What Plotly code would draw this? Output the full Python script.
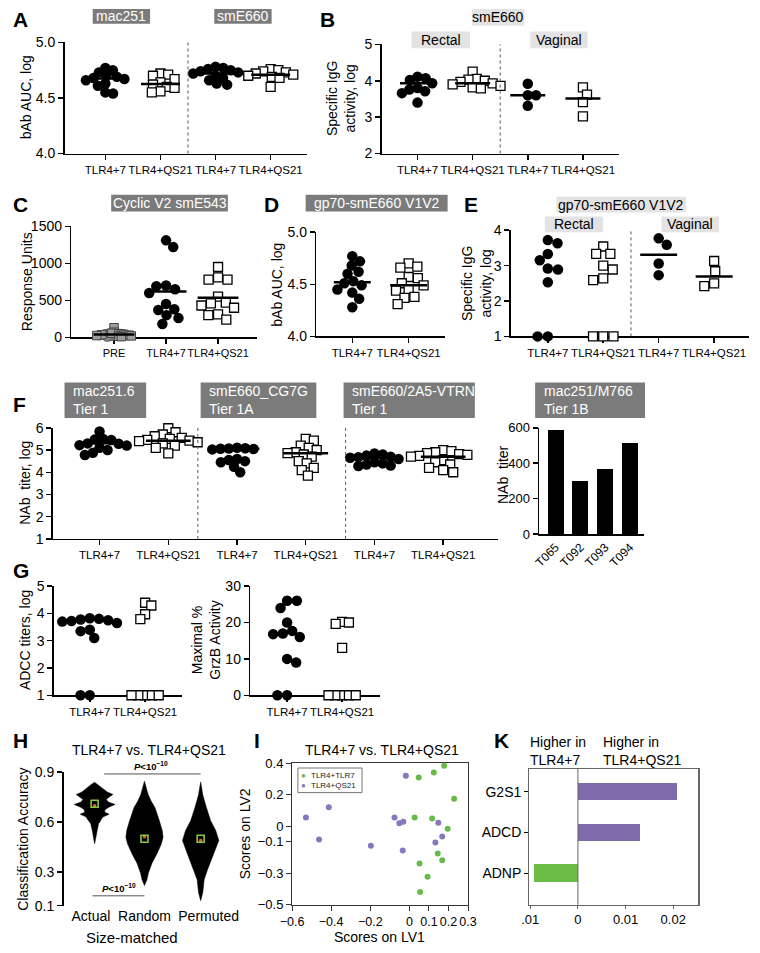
import math
import plotly.graph_objects as go

W, H = 760, 953
FONT = "Liberation Sans, Arial, Helvetica, sans-serif"

# ============================ data ============================
grp2 = ["TLR4+7", "TLR4+QS21"]
grp4 = ["TLR4+7", "TLR4+QS21", "TLR4+7", "TLR4+QS21"]
grp_c = ["PRE", "TLR4+7", "TLR4+QS21"]
grp6 = grp4 + grp2

# A  bAb AUC, log (mac251 / smE660)
a_mac251_tlr47 = [4.77, 4.75, 4.73, 4.70, 4.69, 4.68, 4.67, 4.66, 4.63, 4.61, 4.55, 4.54]
a_mac251_qs21 = [4.72, 4.71, 4.70, 4.67, 4.64, 4.62, 4.60, 4.59, 4.56, 4.55]
a_sme660_tlr47 = [4.78, 4.77, 4.76, 4.75, 4.74, 4.73, 4.72, 4.70, 4.68, 4.66, 4.63, 4.62]
a_sme660_qs21 = [4.76, 4.75, 4.74, 4.73, 4.72, 4.71, 4.70, 4.69, 4.68, 4.60]
a_lines = [4.675, 4.625, 4.72, 4.71]

# B  smE660 specific IgG activity (rectal / vaginal)
b_rectal_tlr47 = [4.11, 4.07, 4.02, 3.93, 3.80, 3.76, 3.71, 3.66, 3.40]
b_rectal_qs21 = [4.25, 4.05, 4.03, 4.00, 3.97, 3.93, 3.90, 3.86, 3.82, 3.79]
b_vaginal_tlr47 = [3.92, 3.60, 3.60, 3.31]
b_vaginal_qs21 = [3.82, 3.62, 3.41, 3.02]
b_lines = [3.93, 3.93, 3.60, 3.51]

# C  Cyclic V2 smE543, response units
c_pre_circles = [60, 50, 45, 40, 35, 30, 30, 25, 20, 15, 10]
c_pre_squares = [130, 70, 55, 50, 45, 40, 35, 30, 25, 20, 15, 10]
c_tlr47 = [1310, 1220, 700, 690, 650, 600, 450, 380, 370, 300, 260, 180]
c_qs21 = [950, 810, 780, 780, 550, 470, 460, 430, 400, 310, 300, 240]
c_lines = [40, 620, 535]

# D  gp70-smE660 V1V2 bAb AUC, log
d_tlr47 = [4.77, 4.72, 4.68, 4.62, 4.60, 4.53, 4.51, 4.49, 4.45, 4.42, 4.36, 4.28]
d_qs21 = [4.70, 4.67, 4.66, 4.57, 4.56, 4.51, 4.49, 4.45, 4.44, 4.38, 4.37, 4.31]
d_lines = [4.52, 4.49]

# E  gp70-smE660 V1V2 specific IgG activity
e_rectal_tlr47 = [3.72, 3.63, 3.33, 3.15, 2.92, 2.89, 2.53, 1.0, 1.0]
e_rectal_qs21 = [3.54, 3.33, 3.33, 3.00, 2.89, 2.64, 2.59, 1.0, 1.0, 1.0]
e_vaginal_tlr47 = [3.77, 3.59, 3.06, 2.73]
e_vaginal_qs21 = [3.13, 2.84, 2.50, 2.42]
e_lines = [None, None, 3.31, 2.69]

# F  NAb titer, log
f_mac_tlr47 = [5.84, 5.50, 5.48, 5.45, 5.30, 5.28, 5.22, 5.20, 5.10, 5.00, 4.88, 4.78]
f_mac_qs21 = [5.98, 5.80, 5.70, 5.62, 5.55, 5.50, 5.46, 5.42, 5.40, 5.35, 5.30, 5.20, 5.10, 4.85]
f_cg7g_tlr47 = [5.10, 5.08, 5.07, 5.06, 5.05, 5.03, 4.60, 4.55, 4.50, 4.45, 4.25, 4.00]
f_cg7g_qs21 = [5.50, 5.42, 5.20, 5.10, 5.00, 4.90, 4.86, 4.80, 4.70, 4.50, 4.40, 4.20, 4.10, 3.85]
f_vtrn_tlr47 = [4.85, 4.80, 4.75, 4.70, 4.68, 4.65, 4.60, 4.45, 4.40, 4.35, 4.30, 4.28]
f_vtrn_qs21 = [5.00, 4.95, 4.90, 4.86, 4.82, 4.78, 4.74, 4.70, 4.55, 4.45, 4.35, 4.20, 4.10, 4.00]
f_lines = [5.31, 5.42, 5.06, 4.86, 4.65, 4.70]

# F  mac251/M766 NAb titer bars
f_bar_animals = ["T065", "T092", "T093", "T094"]
f_bar_titers = [590, 300, 365, 515]

# G  ADCC
g_adcc_tlr47 = [3.82, 3.80, 3.78, 3.75, 3.72, 3.70, 3.65, 3.60, 3.40, 3.35, 3.10, 1.0, 1.0]
g_adcc_qs21 = [4.39, 4.29, 3.97, 3.79, 1.0, 1.0, 1.0, 1.0, 1.0]
g_grzb_tlr47 = [26.0, 26.0, 24.0, 20.0, 17.7, 17.0, 16.8, 16.0, 10.0, 9.0, 0.0, 0.0]
g_grzb_qs21 = [20.2, 20.0, 19.6, 13.0, 0.0, 0.0, 0.0, 0.0, 0.0]

# H  classification accuracy violins (accuracy level, relative density)
h_groups = ["Actual", "Random", "Permuted"]
h_actual_acc = [0.47, 0.50, 0.54, 0.57, 0.59, 0.605, 0.618, 0.632, 0.647, 0.66, 0.676, 0.69,
                0.706, 0.72, 0.735, 0.75, 0.765, 0.78, 0.795, 0.81, 0.825, 0.838]
h_actual_dens = [0.0, 0.05, 0.10, 0.14, 0.19, 0.28, 0.33, 0.43, 0.71, 0.48, 0.52, 0.71,
                 1.0, 0.67, 0.57, 0.71, 0.90, 0.62, 0.45, 0.31, 0.17, 0.0]
h_random_acc = [0.22, 0.255, 0.294, 0.353, 0.41, 0.47, 0.51, 0.549, 0.608, 0.688, 0.725, 0.765,
                0.80, 0.824, 0.845]
h_random_dens = [0.0, 0.12, 0.19, 0.36, 0.61, 0.83, 0.91, 0.87, 0.73, 0.51, 0.33, 0.18,
                 0.10, 0.05, 0.0]
h_permuted_acc = [0.13, 0.176, 0.218, 0.255, 0.314, 0.372, 0.43, 0.49, 0.549, 0.608, 0.688,
                  0.765, 0.805, 0.84]
h_permuted_dens = [0.0, 0.10, 0.14, 0.17, 0.33, 0.52, 0.71, 0.89, 0.74, 0.49, 0.28, 0.10,
                   0.05, 0.0]
h_medians = [0.71, 0.50, 0.50]
h_means = [0.698, 0.512, 0.49]

# I  PLS-DA scores
i_tlr47_lv1 = [0.178, 0.048, 0.125, 0.229, 0.027, 0.116, 0.196, 0.145, 0.168, 0.052, 0.093, 0.055]
i_tlr47_lv2 = [0.383, 0.308, 0.340, 0.173, 0.054, 0.048, -0.017, -0.175, -0.217, -0.238, -0.323, -0.419]
i_qs21_lv1 = [-0.018, -0.412, -0.529, -0.076, -0.051, -0.031, 0.148, -0.462, -0.197, -0.034, 0.133, 0.168]
i_qs21_lv2 = [0.319, 0.119, 0.054, 0.054, 0.017, 0.027, 0.021, -0.086, -0.125, -0.156, -0.104, -0.067]

# K  loadings
k_features = ["G2S1", "ADCD", "ADNP"]
k_values = [0.0208, 0.0131, -0.0092]

# ============================ styling helpers ============================
GREEN = "#68bb4b"
PURPLE = "#8678bd"
BAR_PURPLE = "#7f6aae"
BAR_GREEN = "#6cbd45"
DARK_BOX = "#7b7b7b"
LIGHT_BOX = "#e3e3e3"

traces = []
shapes = []
annotations = []
layout = dict(width=W, height=H, margin=dict(l=0, r=0, t=0, b=0),
              paper_bgcolor="white", plot_bgcolor="white", showlegend=False,
              font=dict(family=FONT, color="black"))
AX = {}


def px_x(p):
    return p / W


def px_y(p):
    return 1 - p / H


def axes(i, x0, x1, ytop, ybot, xr, yr, xkw=None, ykw=None):
    xs = "xaxis" if i == 1 else f"xaxis{i}"
    ys = "yaxis" if i == 1 else f"yaxis{i}"
    xref = "x" if i == 1 else f"x{i}"
    yref = "y" if i == 1 else f"y{i}"
    base = dict(showline=True, linecolor="black", linewidth=1.5, ticks="outside",
                ticklen=5, tickwidth=1.5, tickcolor="black", showgrid=False,
                zeroline=False, layer="below traces", fixedrange=True)
    xa = dict(base, domain=[px_x(x0), px_x(x1)], range=xr, anchor=yref, tickangle=0,
              tickfont=dict(family=FONT, size=11.5, color="black"))
    ya = dict(base, domain=[px_y(ybot), px_y(ytop)], range=yr, anchor=xref,
              tickfont=dict(family=FONT, size=14, color="black"))
    if xkw:
        xa.update(xkw)
    if ykw:
        ya.update(ykw)
    layout[xs] = xa
    layout[ys] = ya
    ppx = (x1 - x0) / (xr[1] - xr[0])
    ppy = abs(ybot - ytop) / abs(yr[1] - yr[0])
    AX[i] = (xref, yref, ppx, ppy)
    return xref, yref


def swarm(vals, ppx, ppy, d):
    n = len(vals)
    order = sorted(range(n), key=lambda k: -vals[k])
    placed = []
    offs = [0.0] * n
    side = 1
    for k in order:
        y = vals[k] * ppy
        cands = [0.0]
        for xj, yj in placed:
            dy = abs(y - yj)
            if dy < d:
                dx = math.sqrt(d * d - dy * dy)
                cands += [xj + dx, xj - dx]
        ok = [c for c in cands
              if all((c - xj) ** 2 + (y - yj) ** 2 >= d * d - 1e-6 for xj, yj in placed)]
        if not ok:
            ok = [max(abs(c) for c in cands) + d]
        best = min(ok, key=lambda c: (round(abs(c), 2), -side * c))
        if abs(best) > 1e-9:
            side = -side
        placed.append((best, y))
        offs[k] = best / ppx
    return offs


STY = {
    "c": dict(symbol="circle", color="black", size=10.5, line=dict(width=0)),
    "s": dict(symbol="square", color="white", size=9, line=dict(color="black", width=1.3)),
    "gc": dict(symbol="circle", color="#8e8e8e", size=9.5, line=dict(color="#555555", width=0.8)),
    "gs": dict(symbol="square", color="#9c9c9c", size=8.5, line=dict(color="#444444", width=1)),
}


def dots(i, cat, vals, kind, d=8.5, offs=None):
    xref, yref, ppx, ppy = AX[i]
    if offs is None:
        offs = swarm(vals, ppx, ppy, d)
    traces.append(go.Scatter(x=[cat + o for o in offs], y=vals, mode="markers",
                             marker=STY[kind], xaxis=xref, yaxis=yref,
                             cliponaxis=False, hoverinfo="skip"))


def hline(i, cat, val, half_px=19):
    if val is None:
        return
    xref, yref, ppx, ppy = AX[i]
    hw = half_px / ppx
    traces.append(go.Scatter(x=[cat - hw, cat + hw], y=[val, val], mode="lines",
                             line=dict(color="black", width=2.5), xaxis=xref, yaxis=yref,
                             cliponaxis=False, hoverinfo="skip"))


def sep(i, xval):
    xref, yref, _, _ = AX[i]
    shapes.append(dict(type="line", xref=xref, yref=f"{yref} domain", x0=xval, x1=xval,
                       y0=0, y1=1, line=dict(color="#555555", width=1, dash="dot")))


def text(x, y, s, size=14, color="black", xanchor="center", yanchor="middle",
         angle=0, align="center"):
    annotations.append(dict(x=px_x(x), y=px_y(y), xref="paper", yref="paper", text=s,
                            showarrow=False, xanchor=xanchor, yanchor=yanchor,
                            textangle=angle, align=align, borderpad=0,
                            font=dict(family=FONT, size=size, color=color)))


def box(x0, x1, y0, y1, label, dark=True, left=False, size=14):
    shapes.append(dict(type="rect", xref="paper", yref="paper", x0=px_x(x0), x1=px_x(x1),
                       y0=px_y(y1), y1=px_y(y0), fillcolor=DARK_BOX if dark else LIGHT_BOX,
                       line=dict(width=0), layer="below"))
    col = "white" if dark else "black"
    if left:
        text(x0 + 8, (y0 + y1) / 2, label, size=size, color=col, xanchor="left", align="left")
    else:
        text((x0 + x1) / 2, (y0 + y1) / 2, label, size=size, color=col)


def letter(x, y, s, anchor="center"):
    text(x, y, f"<b>{s}</b>", size=21, xanchor=anchor)


def ytitle(x, y, s, size=14, anchor="center"):
    text(x, y, s, size=size, angle=-90, xanchor=anchor)


# ============================ panel A ============================
axes(1, 54, 303, 35, 148, [-0.741, 3.653], [4.0, 5.0],
     dict(tickvals=[0, 1, 2, 3], ticktext=grp4),
     dict(tickvals=[4.0, 4.5, 5.0], ticktext=["4.0", "4.5", "5.0"]))
for cat, (vals, kind) in enumerate([(a_mac251_tlr47, "c"), (a_mac251_qs21, "s"),
                                    (a_sme660_tlr47, "c"), (a_sme660_qs21, "s")]):
    dots(1, cat, vals, kind, d=8)
    hline(1, cat, a_lines[cat], 20)
sep(1, 1.5)
letter(0, 12, "A", anchor="left")
box(83, 142, 1, 16, "mac251")
box(208, 267, 1, 16, "smE660")
ytitle(6, 91, "bAb AUC, log", anchor="left")

# ============================ panel B ============================
axes(2, 380, 624, 37, 148, [-0.653, 3.65], [2, 5],
     dict(tickvals=[0, 1, 2, 3], ticktext=grp4),
     dict(tickvals=[2, 3, 4, 5]))
for cat, (vals, kind) in enumerate([(b_rectal_tlr47, "c"), (b_rectal_qs21, "s"),
                                    (b_vaginal_tlr47, "c"), (b_vaginal_qs21, "s")]):
    dots(2, cat, vals, kind, d=8.5)
    hline(2, cat, b_lines[cat], 18)
sep(2, 1.5)
letter(324, 12, "B")
box(473, 527, 1, 18, "smE660", dark=False)
box(411, 471, 24, 41, "Rectal", dark=False)
box(533, 592, 24, 41, "Vaginal", dark=False)
ytitle(339, 92, "Specific IgG<br>activity, log")

# ============================ panel C ============================
axes(3, 61, 252, 222, 335, [-0.822, 2.75], [0, 1500],
     dict(tickvals=[0, 1, 2], ticktext=grp_c, tickfont=dict(family=FONT, size=11, color="black")),
     dict(tickvals=[0, 500, 1000, 1500]))
_, _, ppx3, ppy3 = AX[3]
pre_all = c_pre_circles + c_pre_squares
pre_offs = swarm(pre_all, ppx3, ppy3, 2.6)
nc = len(c_pre_circles)
dots(3, 0, c_pre_circles, "gc", offs=pre_offs[:nc])
dots(3, 0, c_pre_squares, "gs", offs=pre_offs[nc:])
dots(3, 1, c_tlr47, "c", d=10)
dots(3, 2, c_qs21, "s", d=10)
for cat in range(3):
    hline(3, cat, c_lines[cat], 21)
letter(0, 200, "C", anchor="left")
box(102, 222, 190, 207, "Cyclic V2 smE543")
ytitle(7, 278, "Response Units", anchor="left")

# ============================ panel D ============================
axes(4, 313, 445, 228, 334, [-0.638, 1.64], [4.0, 5.0],
     dict(tickvals=[0, 1], ticktext=grp2),
     dict(tickvals=[4.0, 4.5, 5.0], ticktext=["4.0", "4.5", "5.0"]))
dots(4, 0, d_tlr47, "c", d=9.5)
dots(4, 1, d_qs21, "s", d=9.5)
hline(4, 0, d_lines[0], 19)
hline(4, 1, d_lines[1], 19)
letter(267, 200, "D")
box(302, 448, 190, 207, "gp70-smE660 V1V2")
ytitle(273, 281, "bAb AUC, log")

# ============================ panel E ============================
axes(5, 513, 758, 226, 334, [-0.667, 3.63], [1, 4],
     dict(tickvals=[0, 1, 2, 3], ticktext=grp4),
     dict(tickvals=[1, 2, 3, 4]))
for cat, (vals, kind) in enumerate([(e_rectal_tlr47, "c"), (e_rectal_qs21, "s"),
                                    (e_vaginal_tlr47, "c"), (e_vaginal_qs21, "s")]):
    dots(5, cat, vals, kind, d=10.5)
    hline(5, cat, e_lines[cat], 19)
sep(5, 1.5)
letter(472, 200, "E")
box(560, 693, 192, 208, "gp70-smE660 V1V2", dark=False)
box(548, 608, 212, 228, "Rectal", dark=False)
box(668, 727, 212, 228, "Vaginal", dark=False)
ytitle(478, 280, "Specific IgG<br>activity, log")

# ============================ panel F ============================
axes(6, 42, 500, 427, 540, [-0.68, 5.8], [1, 6],
     dict(tickvals=[0, 1, 2, 3, 4, 5], ticktext=grp6),
     dict(tickvals=[1, 2, 3, 4, 5, 6]))
for cat, (vals, kind) in enumerate([(f_mac_tlr47, "c"), (f_mac_qs21, "s"),
                                    (f_cg7g_tlr47, "c"), (f_cg7g_qs21, "s"),
                                    (f_vtrn_tlr47, "c"), (f_vtrn_qs21, "s")]):
    dots(6, cat, vals, kind, d=8.5)
    hline(6, cat, f_lines[cat], 23)
sep(6, 1.43)
sep(6, 3.58)
letter(0, 403, "F", anchor="left")
box(54, 138, 381, 417, "mac251.6<br>Tier 1", left=True)
box(194, 313, 381, 417, "smE660_CG7G<br>Tier 1A", left=True)
box(341, 476, 381, 417, "smE660/2A5-VTRN<br>Tier 1", left=True)
box(538, 651, 381, 417, "mac251/M766<br>Tier 1B", left=True)
ytitle(4, 483, "NAb  titer, log", anchor="left")

# F bars
xr7, yr7 = axes(7, 542, 650, 427, 535, [-0.67, 3.57], [0, 600],
                dict(tickvals=[0, 1, 2, 3], ticktext=f_bar_animals, ticks="",
                     tickangle=-45, tickfont=dict(family=FONT, size=12, color="black")),
                dict(tickvals=[0, 200, 400, 600], tickfont=dict(family=FONT, size=13, color="black")))
traces.append(go.Bar(x=list(range(len(f_bar_titers))), y=f_bar_titers, width=0.65,
                     marker=dict(color="black", line=dict(width=0)),
                     xaxis=xr7, yaxis=yr7, hoverinfo="skip"))
ytitle(505, 475, "NAb  titer")

# ============================ panel G ============================
axes(8, 43, 175, 588, 699, [-0.65, 1.67], [1, 5],
     dict(tickvals=[0, 1], ticktext=grp2),
     dict(tickvals=[1, 2, 3, 4, 5]))
dots(8, 0, g_adcc_tlr47, "c", d=9.5)
dots(8, 1, g_adcc_qs21, "s", d=7)
letter(0, 572, "G", anchor="left")
ytitle(4, 643, "ADCC titers, log", anchor="left")

axes(9, 245, 378, 588, 699, [-0.67, 1.68], [0, 30],
     dict(tickvals=[0, 1], ticktext=grp2),
     dict(tickvals=[0, 10, 20, 30]))
dots(9, 0, g_grzb_tlr47, "c", d=10)
dots(9, 1, g_grzb_qs21, "s", d=7)
ytitle(200, 643, "Maximal %<br>GrzB Activity")

# ============================ panel H ============================
h_pos = [0.0, 0.94, 2.0]
xr10, yr10 = axes(10, 53, 230, 777, 913, [-0.587, 2.66], [0.1, 0.9],
                  dict(tickvals=[-0.07, 0.94, 2.15], ticktext=h_groups, showline=False, ticks="",
                       tickfont=dict(family=FONT, size=14, color="black")),
                  dict(tickvals=[0.1, 0.3, 0.6, 0.9], ticktext=["0.1", "0.3", "0.6", "0.9"]))
_, _, ppx10, _ = AX[10]
VIOLIN_HALF = 21.0 / ppx10
for pos, (acc, dens) in zip(h_pos, [(h_actual_acc, h_actual_dens),
                                    (h_random_acc, h_random_dens),
                                    (h_permuted_acc, h_permuted_dens)]):
    xs = [pos + dd * VIOLIN_HALF for dd in dens] + [pos - dd * VIOLIN_HALF for dd in dens[::-1]]
    ys = acc + acc[::-1]
    traces.append(go.Scatter(x=xs, y=ys, mode="lines", fill="toself", fillcolor="black",
                             line=dict(color="black", width=0.5), xaxis=xr10, yaxis=yr10,
                             hoverinfo="skip"))
traces.append(go.Scatter(x=h_pos, y=h_means, mode="markers",
                         marker=dict(symbol="circle", size=3.5, color="#e8642c"),
                         xaxis=xr10, yaxis=yr10, hoverinfo="skip"))
traces.append(go.Scatter(x=h_pos, y=h_medians, mode="markers",
                         marker=dict(symbol="square-open", size=7, color="#8cc63f",
                                     line=dict(width=1.6)),
                         xaxis=xr10, yaxis=yr10, hoverinfo="skip"))
shapes.append(dict(type="line", xref=xr10, yref=yr10, x0=0.18, x1=2.0, y0=0.888, y1=0.888,
                   line=dict(color="#555555", width=1)))
shapes.append(dict(type="line", xref=xr10, yref=yr10, x0=-0.04, x1=0.94, y0=0.159, y1=0.159,
                   line=dict(color="#555555", width=1)))
text(143, 771, "<b><i>P</i><10<sup>−10</sup></b>", size=9.5)
text(110, 895, "<b><i>P</i><10<sup>−10</sup></b>", size=9.5)
letter(0, 745, "H", anchor="left")
text(141, 755, "TLR4+7 vs. TLR4+QS21", size=14)
ytitle(2, 845, "Classification Accuracy", anchor="left")
text(123, 945, "Size-matched", size=15)

# ============================ panel I ============================
xr11, yr11 = axes(11, 288, 469, 768, 912, [-0.6, 0.3], [-0.5, 0.4],
                  dict(tickvals=[-0.6, -0.4, -0.2, 0, 0.1, 0.2, 0.3],
                       ticktext=["−0.6", "−0.4", "−0.2", "0", "0.1", "0.2", "0.3"],
                       mirror=True, linecolor="#333333", linewidth=1, tickwidth=1,
                       tickcolor="#333333",
                       tickfont=dict(family=FONT, size=12.5, color="black")),
                  dict(tickvals=[-0.5, -0.3, -0.1, 0, 0.2, 0.4],
                       ticktext=["−0.5", "−0.3", "−0.1", "0", "0.2", "0.4"],
                       mirror=True, linecolor="#333333", linewidth=1, tickwidth=1,
                       tickcolor="#333333",
                       tickfont=dict(family=FONT, size=13, color="black")))
traces.append(go.Scatter(x=i_tlr47_lv1, y=i_tlr47_lv2, mode="markers",
                         marker=dict(size=6, color=GREEN), xaxis=xr11, yaxis=yr11,
                         cliponaxis=False, hoverinfo="skip"))
traces.append(go.Scatter(x=i_qs21_lv1, y=i_qs21_lv2, mode="markers",
                         marker=dict(size=6, color=PURPLE), xaxis=xr11, yaxis=yr11,
                         cliponaxis=False, hoverinfo="skip"))
shapes.append(dict(type="rect", xref="paper", yref="paper", x0=px_x(294), x1=px_x(360),
                   y0=px_y(798), y1=px_y(773), line=dict(color="#777777", width=1),
                   fillcolor="white"))
text(300, 781, "●", size=8, color=GREEN)
text(306, 781, "TLR4+TLR7", size=8, color="#222222", xanchor="left")
text(300, 791, "●", size=8, color=PURPLE)
text(306, 791, "TLR4+QS21", size=8, color="#222222", xanchor="left")
letter(252, 745, "I")
text(381, 755, "TLR4+7 vs. TLR4+QS21", size=14)
ytitle(240, 840, "Scores on LV2")
text(378, 945, "Scores on LV1", size=14)

# ============================ panel K ============================
xr12, yr12 = axes(12, 532, 706, 774, 912, [-0.0102, 0.0253], [2.77, -0.554],
                  dict(tickvals=[-0.01, 0, 0.01, 0.02], ticktext=[".01", "0", "0.01", "0.02"],
                       mirror=True, linecolor="#666666", linewidth=1.2, ticklen=3,
                       tickwidth=1, tickcolor="#666666",
                       tickfont=dict(family=FONT, size=13, color="black")),
                  dict(tickvals=[0, 1, 2], ticktext=k_features, mirror=True,
                       linecolor="#666666", linewidth=1.2, ticklen=4, tickwidth=1.2,
                       tickcolor="black",
                       tickfont=dict(family=FONT, size=14, color="black")))
traces.append(go.Bar(x=k_values, y=list(range(len(k_values))), orientation="h", width=0.43,
                     marker=dict(color=[BAR_PURPLE if v > 0 else BAR_GREEN for v in k_values],
                                 line=dict(width=0)),
                     xaxis=xr12, yaxis=yr12, hoverinfo="skip"))
shapes.append(dict(type="line", xref=xr12, yref=f"{yr12} domain", x0=0, x1=0, y0=0, y1=1,
                   line=dict(color="#666666", width=1)))
letter(503, 745, "K")
text(532, 737, "Higher in<br>TLR4+7", size=14, xanchor="left", yanchor="top", align="left")
text(607, 737, "Higher in<br>TLR4+QS21", size=14, xanchor="left", yanchor="top", align="left")

layout["shapes"] = shapes
layout["annotations"] = annotations
layout["bargap"] = 0

fig = go.Figure(data=traces, layout=layout)
fig.write_html("out.html", config={"displayModeBar": False, "staticPlot": True},
               post_script="document.body.style.margin='0px';document.body.style.padding='0px';"
                           "document.body.style.overflow='hidden';")
